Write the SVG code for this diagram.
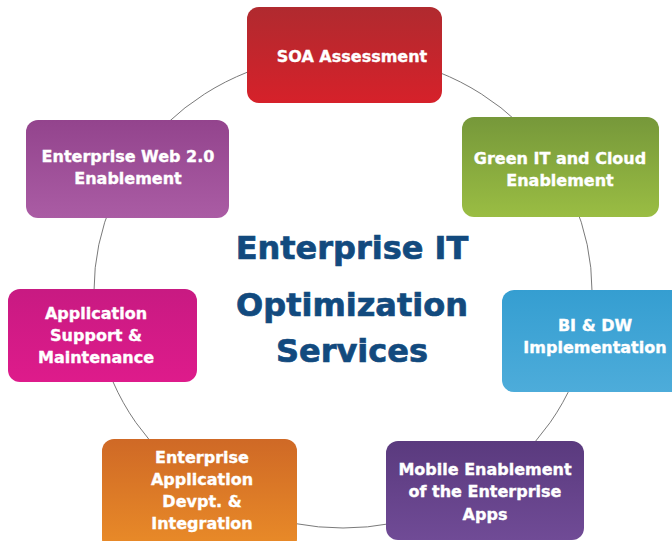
<svg xmlns="http://www.w3.org/2000/svg" width="672" height="541" viewBox="0 0 672 541">
<defs>
<linearGradient id="gRed" x1="0" y1="0" x2="0" y2="1"><stop offset="0" stop-color="#b02a2f"/><stop offset="1" stop-color="#d6212a"/></linearGradient>
<linearGradient id="gPurple" x1="0" y1="0" x2="0" y2="1"><stop offset="0" stop-color="#93448d"/><stop offset="1" stop-color="#aa5ca4"/></linearGradient>
<linearGradient id="gGreen" x1="0" y1="0" x2="0" y2="1"><stop offset="0" stop-color="#76983a"/><stop offset="1" stop-color="#9abd43"/></linearGradient>
<linearGradient id="gMagenta" x1="0" y1="0" x2="0" y2="1"><stop offset="0" stop-color="#c81a82"/><stop offset="1" stop-color="#de1b8b"/></linearGradient>
<linearGradient id="gBlue" x1="0" y1="0" x2="0" y2="1"><stop offset="0" stop-color="#359ed1"/><stop offset="1" stop-color="#4dacda"/></linearGradient>
<linearGradient id="gOrange" x1="0" y1="0" x2="0" y2="1"><stop offset="0" stop-color="#cf6926"/><stop offset="1" stop-color="#ea8c28"/></linearGradient>
<linearGradient id="gViolet" x1="0" y1="0" x2="0" y2="1"><stop offset="0" stop-color="#5a3a7e"/><stop offset="1" stop-color="#704b96"/></linearGradient>
</defs>
<style>
.box{stroke:none}
.lbl{font-family:"DejaVu Sans",Verdana,sans-serif;font-weight:bold;font-size:16px;fill:#ffffff;stroke:#ffffff;stroke-width:0.35;text-anchor:middle}
.title{font-family:"DejaVu Sans",Verdana,sans-serif;font-weight:bold;font-size:32px;fill:#124a7e;stroke:#124a7e;stroke-width:0.7;text-anchor:middle}
.ring{fill:none;stroke:#7a7a7a;stroke-width:1}
</style>
<g id="connectors">
<ellipse class="ring" cx="343" cy="291" rx="249" ry="237"/>
</g>
<g id="center">
<text class="title" x="352" y="259">Enterprise IT</text>
<text class="title" x="352" y="316">Optimization</text>
<text class="title" x="352" y="362">Services</text>
</g>
<g id="soa">
<rect class="box" x="247" y="7" width="195" height="96" rx="12" fill="url(#gRed)"/>
<text class="lbl" x="352" y="62">SOA Assessment</text>
</g>
<g id="web20">
<rect class="box" x="26" y="120" width="203" height="98" rx="12" fill="url(#gPurple)"/>
<text class="lbl" x="128" y="162">Enterprise Web 2.0</text>
<text class="lbl" x="128" y="184">Enablement</text>
</g>
<g id="green">
<rect class="box" x="462" y="117" width="197" height="100" rx="12" fill="url(#gGreen)"/>
<text class="lbl" x="560" y="164">Green IT and Cloud</text>
<text class="lbl" x="560" y="186">Enablement</text>
</g>
<g id="appsupport">
<rect class="box" x="8" y="289" width="189" height="93" rx="12" fill="url(#gMagenta)"/>
<text class="lbl" x="96" y="319">Application</text>
<text class="lbl" x="96" y="341">Support &amp;</text>
<text class="lbl" x="96" y="363">Maintenance</text>
</g>
<g id="bidw">
<rect class="box" x="502" y="290" width="185" height="102" rx="12" fill="url(#gBlue)"/>
<text class="lbl" x="595" y="331">BI &amp; DW</text>
<text class="lbl" x="595" y="353">Implementation</text>
</g>
<g id="entapp">
<rect class="box" x="102" y="439" width="195" height="112" rx="12" fill="url(#gOrange)"/>
<text class="lbl" x="202" y="463">Enterprise</text>
<text class="lbl" x="202" y="485">Application</text>
<text class="lbl" x="202" y="507">Devpt. &amp;</text>
<text class="lbl" x="202" y="529">Integration</text>
</g>
<g id="mobile">
<rect class="box" x="386" y="441" width="198" height="99" rx="12" fill="url(#gViolet)"/>
<text class="lbl" x="485" y="475">Mobile Enablement</text>
<text class="lbl" x="485" y="497">of the Enterprise</text>
<text class="lbl" x="485" y="520">Apps</text>
</g>
</svg>
